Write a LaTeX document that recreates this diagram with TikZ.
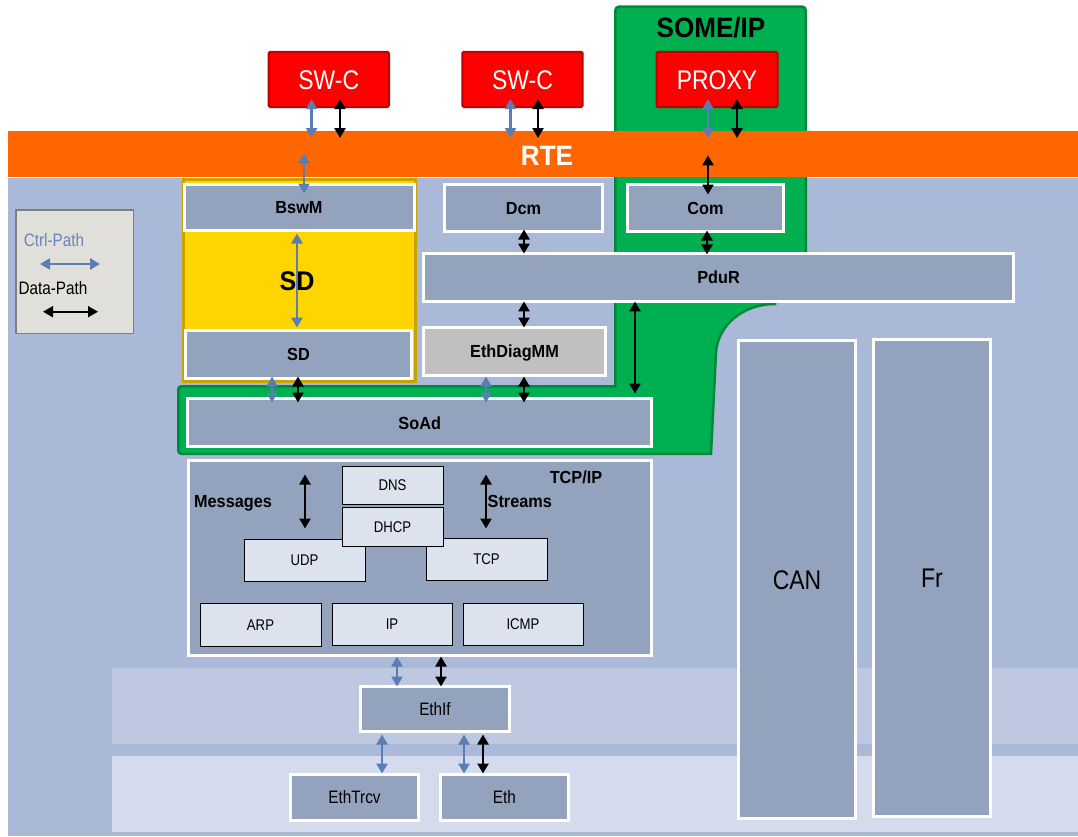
\documentclass[tikz,border=0pt]{standalone}
\usepackage{fontspec}
\setmainfont{Liberation Sans}
\newfontfamily\narrowreg{Liberation Sans}[FakeStretch=0.85]
\newfontfamily\narrowbold{Liberation Sans}[FakeStretch=0.93]
\usetikzlibrary{arrows.meta}
\definecolor{bgblue}{HTML}{A9B9D7}
\definecolor{modc}{HTML}{93A3BD}
\definecolor{bandone}{HTML}{BEC8E1}
\definecolor{bandtwo}{HTML}{D4DBEC}
\definecolor{orng}{HTML}{FF6600}
\definecolor{redf}{HTML}{FF0000}
\definecolor{redb}{HTML}{C00000}
\definecolor{grnf}{HTML}{00B050}
\definecolor{grnb}{HTML}{00893C}
\definecolor{ylwf}{HTML}{FFD500}
\definecolor{ylwb}{HTML}{C9A400}
\definecolor{ctrlc}{HTML}{5A7DB4}
\definecolor{ctrlt}{HTML}{6586BE}
\definecolor{litec}{HTML}{DCE2EE}
\definecolor{grayf}{HTML}{C0C0C0}
\definecolor{legf}{HTML}{E1DFD9}
\definecolor{legb}{HTML}{7F7F7F}
\begin{document}
\begin{tikzpicture}[x=1pt,y=-1pt,
  boldtxt/.style={font=\narrowbold\bfseries\fontsize{#1}{#1}\selectfont, inner sep=0pt},
  regtxt/.style={font=\narrowreg\fontsize{#1}{#1}\selectfont, inner sep=0pt},
  mod/.style={draw=white, line width=3pt, fill=modc, inner sep=0pt, text height=12.6pt, text depth=0pt,
    font=\narrowbold\bfseries\fontsize{17.5}{18}\selectfont},
  modr/.style={mod, text height=12.9pt, font=\narrowreg\fontsize{18}{18}\selectfont},
  lite/.style={draw=black, line width=1pt, fill=litec, inner sep=0pt, text height=11.1pt, text depth=0pt,
    font=\narrowreg\fontsize{15.5}{16}\selectfont},
  swc/.style={draw=redb, line width=2pt, fill=redf, text=white, inner sep=0pt, rounded corners=1.5pt,
    text height=19.3pt, text depth=0pt, font=\narrowreg\fontsize{27}{27}\selectfont,
    minimum width=120.4, minimum height=55.3},
  arr/.style={{Triangle[length=10pt,width=11pt]}-{Triangle[length=10pt,width=11pt]}},
  ctrl/.style={arr, draw=ctrlc, line width=2.8pt},
  data/.style={arr, draw=black, line width=2.6pt}]
\useasboundingbox (0,0) rectangle (1078,836);
\fill[white] (0,0) rectangle (1078,836);
% background layers
\fill[bgblue] (8,178) rectangle (1078,836);
\fill[bandone] (112,668) rectangle (1078,744);
\fill[bandtwo] (112,756) rectangle (1078,832);
% SOME/IP green region
\filldraw[fill=grnf, draw=grnb, line width=2.5pt]
  (615.25,386.25) [rounded corners=4pt] -- (615.25,6.5) -- (805.75,6.5) [sharp corners] -- (805.75,290) -- (775,290) -- (775,304)
  .. controls (742,304) and (718,326) .. (716,352) -- (711,453.75) [rounded corners=3pt] -- (178.25,453.75) -- (178.25,386.25) [sharp corners] -- cycle;
% RTE
\node[fill=orng, minimum width=1070, minimum height=46, inner sep=0pt, anchor=north west] (rte) at (8,131) {};
\node[boldtxt=28, text=white, anchor=base] at (547,165) {RTE};
% SD yellow region
\filldraw[fill=ylwf, draw=ylwb, line width=3pt] (183,179.5) rectangle (415.5,381.5);
% top components
\node[swc] (swc1) at (328.8,79.4) {SW-C};
\node[swc] (swc2) at (522.5,79.4) {SW-C};
\node[swc, minimum width=121] (proxy) at (717,79.5) {PROXY};
\node[boldtxt=28, anchor=base] at (711,37) {SOME/IP};
% BSW modules
\node[mod, minimum width=230, minimum height=46] (bswm) at (299,207.5) {BswM};
\node[mod, minimum width=158, minimum height=47] (dcm) at (523.5,208) {Dcm};
\node[mod, minimum width=156, minimum height=47] (com) at (705.5,208) {Com};
\node[mod, minimum width=589.7, minimum height=48.3] (pdur) at (718.6,277.3) {PduR};
\node[mod, fill=grayf, minimum width=182, minimum height=48] (ethdiag) at (514.5,351.5) {EthDiagMM};
\node[mod, minimum width=226, minimum height=48] (sd) at (298.5,354.5) {SD};
\node[boldtxt=27, anchor=base] (sdlabel) at (297,290.7) {SD};
\node[mod, minimum width=464, minimum height=48] (soad) at (419.7,422.8) {SoAd};
% TCP/IP
\node[mod, minimum width=463, minimum height=195] (tcpip) at (420,558) {};
\node[boldtxt=17.5, anchor=base] at (576,483) {TCP/IP};
\node[boldtxt=17.5, anchor=base] at (233,507) {Messages};
\node[boldtxt=17.5, anchor=base west] at (487.5,507) {Streams};
\node[lite, minimum width=121, minimum height=42] (udp) at (304.5,560) {UDP};
\node[lite, minimum width=121, minimum height=42] (tcp) at (486.5,559) {TCP};
\node[lite, minimum width=101, minimum height=38] (dns) at (392.5,485) {DNS};
\node[lite, minimum width=101, minimum height=39] (dhcp) at (392.5,526.5) {DHCP};
\node[lite, minimum width=121, minimum height=43] (arp) at (260.5,624.5) {ARP};
\node[lite, minimum width=120, minimum height=42] (ip) at (392,624) {IP};
\node[lite, minimum width=120, minimum height=42] (icmp) at (523,624) {ICMP};
% Ethernet stack
\node[modr, minimum width=149, minimum height=45] (ethif) at (435,709) {EthIf};
\node[modr, minimum width=128, minimum height=46] (ethtrcv) at (354.5,797.5) {EthTrcv};
\node[modr, minimum width=128, minimum height=46] (eth) at (504.3,797.5) {Eth};
% CAN / Fr
\node[modr, minimum width=117, minimum height=478, text height=19.3pt, font=\narrowreg\fontsize{27}{27}\selectfont] (can) at (797,579.5) {CAN};
\node[modr, minimum width=117, minimum height=477, text height=19.3pt, font=\narrowreg\fontsize{27}{27}\selectfont] (fr) at (932,578) {Fr};
% legend
\node[draw=legb, fill=legf, line width=1.5pt, minimum width=117.5, minimum height=123.5, inner sep=0pt] (legend) at (74.5,271.5) {};
\node[regtxt=18, text=ctrlt, anchor=base] at (54,246) {Ctrl-Path};
\node[regtxt=18, anchor=base] at (53,294) {Data-Path};
\draw[ctrl, line width=2.4pt] ([shift={(-34.5,-7.5)}]legend.center) -- ([shift={(25.5,-7.5)}]legend.center);
\draw[data, line width=1.8pt] ([shift={(-31.5,40.2)}]legend.center) -- ([shift={(23.5,40.2)}]legend.center);
% connectors SW-C / PROXY -> RTE
\draw[ctrl, shorten <=-9pt, shorten >=-7pt] ([xshift=-17.2pt]swc1.south) -- ([xshift=-17.2pt]swc1.south |- rte.north);
\draw[data, shorten <=-9pt, shorten >=-7pt] ([xshift=11.2pt]swc1.south) -- ([xshift=11.2pt]swc1.south |- rte.north);
\draw[ctrl, shorten <=-9pt, shorten >=-7pt] ([xshift=-12pt]swc2.south) -- ([xshift=-12pt]swc2.south |- rte.north);
\draw[data, shorten <=-9pt, shorten >=-7pt] ([xshift=15.5pt]swc2.south) -- ([xshift=15.5pt]swc2.south |- rte.north);
\draw[ctrl, shorten <=-9pt, shorten >=-7pt] ([xshift=-9pt]proxy.south) -- ([xshift=-9pt]proxy.south |- rte.north);
\draw[data, shorten <=-9pt, shorten >=-7pt] ([xshift=20pt]proxy.south) -- ([xshift=20pt]proxy.south |- rte.north);
% RTE -> BSW
\draw[ctrl, shorten <=-24pt, shorten >=-10.5pt] ([xshift=5pt]bswm.north |- rte.south) -- ([xshift=5pt]bswm.north);
\draw[data, shorten <=-22pt, shorten >=-11.5pt] ([xshift=2.5pt]com.north |- rte.south) -- ([xshift=2.5pt]com.north);
% module connectors
\draw[data, shorten <=-2.5pt, shorten >=-2.8pt] ([xshift=1.5pt]com.south) -- ([xshift=1.5pt]com.south |- pdur.north);
\draw[data, shorten <=-3.5pt, shorten >=-2pt] ([xshift=0.5pt]dcm.south) -- ([xshift=0.5pt]dcm.south |- pdur.north);
\draw[data, shorten <=-1.5pt, shorten >=-1.5pt] ([xshift=9.5pt]ethdiag.north |- pdur.south) -- ([xshift=9.5pt]ethdiag.north);
\draw[data, shorten <=-1.5pt, shorten >=3.8pt] ([xshift=215.3pt]soad.north |- pdur.south) -- ([xshift=215.3pt]soad.north);
\draw[ctrl, shorten <=1.5pt, shorten >=1.5pt] ([xshift=-1.5pt]sd.north |- bswm.south) -- ([xshift=-1.5pt]sd.north);
\draw[ctrl, shorten <=-3.5pt, shorten >=-5.2pt] ([xshift=-26.5pt]sd.south) -- ([xshift=-26.5pt]sd.south |- soad.north);
\draw[data, shorten <=-3.5pt, shorten >=-5.2pt] ([xshift=-0.5pt]sd.south) -- ([xshift=-0.5pt]sd.south |- soad.north);
\draw[ctrl, shorten <=-0.5pt, shorten >=-5.2pt] ([xshift=-28.5pt]ethdiag.south) -- ([xshift=-28.5pt]ethdiag.south |- soad.north);
\draw[data, shorten <=-0.5pt, shorten >=-5.2pt] ([xshift=9.5pt]ethdiag.south) -- ([xshift=9.5pt]ethdiag.south |- soad.north);
% TCP/IP internal
\draw[data, shorten <=15.5pt, shorten >=10pt] ([xshift=0.5pt]udp.north |- tcpip.north) -- ([xshift=0.5pt]udp.north);
\draw[data, shorten <=15.5pt, shorten >=9pt] ([xshift=-0.5pt]tcp.north |- tcpip.north) -- ([xshift=-0.5pt]tcp.north);
% TCP/IP -> EthIf -> drivers
\draw[ctrl, shorten <=-0.5pt, shorten >=-1.5pt] ([xshift=-38pt]ethif.north |- tcpip.south) -- ([xshift=-38pt]ethif.north);
\draw[data, shorten <=-0.5pt, shorten >=-1.5pt] ([xshift=6pt]ethif.north |- tcpip.south) -- ([xshift=6pt]ethif.north);
\draw[ctrl, shorten <=1.5pt, shorten >=-0.5pt] ([xshift=27.5pt]ethtrcv.north |- ethif.south) -- ([xshift=27.5pt]ethtrcv.north);
\draw[ctrl, shorten <=1.5pt, shorten >=-0.5pt] ([xshift=-40.3pt]eth.north |- ethif.south) -- ([xshift=-40.3pt]eth.north);
\draw[data, shorten <=1.5pt, shorten >=-0.5pt] ([xshift=-21.3pt]eth.north |- ethif.south) -- ([xshift=-21.3pt]eth.north);
\end{tikzpicture}
\end{document}
